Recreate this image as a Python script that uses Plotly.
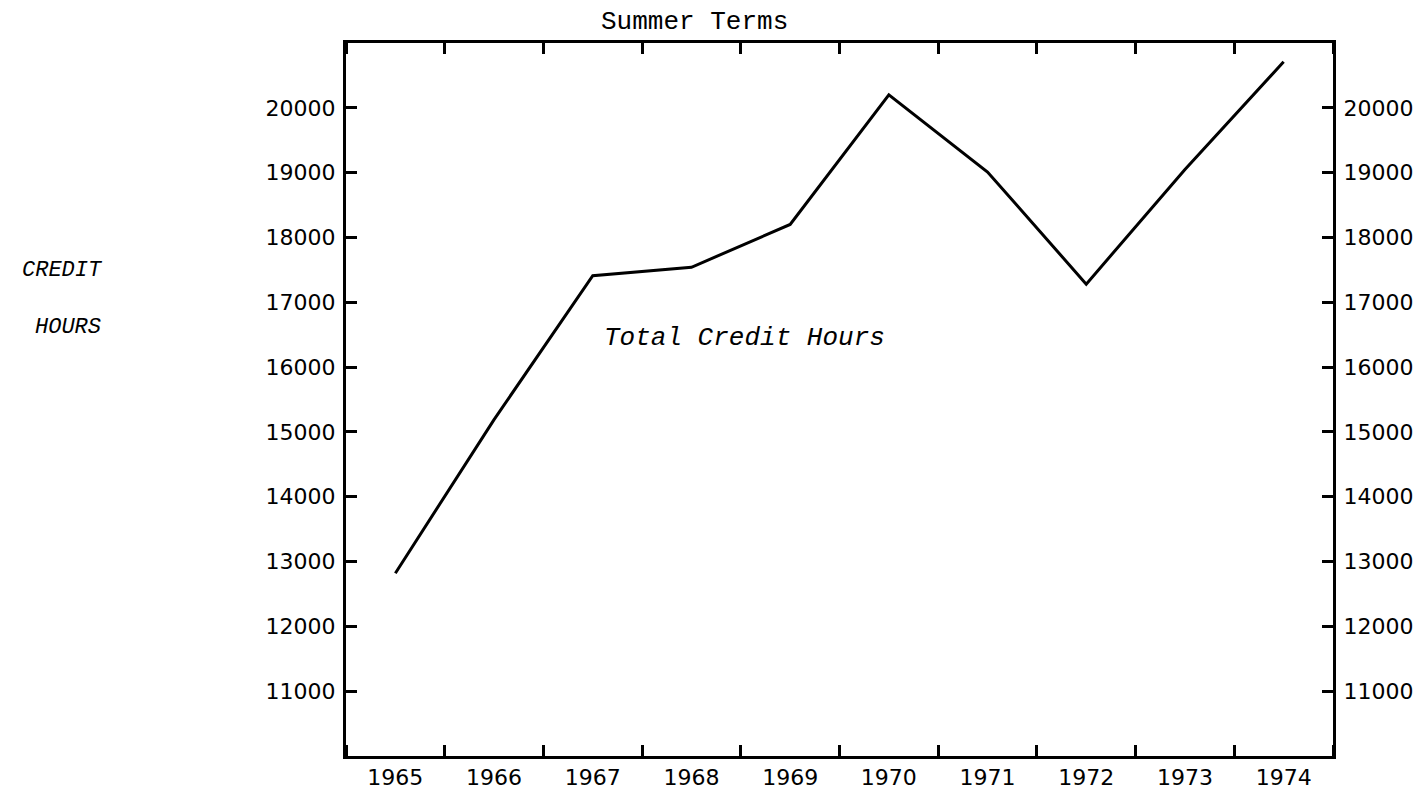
import plotly.graph_objects as go

# Summer-term enrolment, total credit hours per year
years = [1965, 1966, 1967, 1968, 1969, 1970, 1971, 1972, 1973, 1974]
credit_hours = [12820, 15190, 17410, 17540, 18200, 20200, 19010, 17280, 19050, 20710]

y_ticks = [11000, 12000, 13000, 14000, 15000, 16000, 17000, 18000, 19000, 20000]
year_labels = [str(y) for y in years]

typewriter = "Liberation Mono"
numeric_font = dict(family="DejaVu Sans", size=22, color="black")

fig = go.Figure()

fig.add_trace(go.Scatter(
    x=years, y=credit_hours, mode="lines",
    line=dict(color="black", width=3),
    hoverinfo="skip", showlegend=False,
))
# invisible copy so the right-hand value axis is laid out
fig.add_trace(go.Scatter(
    x=years, y=credit_hours, mode="lines", yaxis="y2",
    line=dict(color="rgba(0,0,0,0)", width=0),
    hoverinfo="skip", showlegend=False,
))

axis_line = dict(showline=True, linecolor="black", linewidth=3,
                 showgrid=False, zeroline=False, automargin=False)

fig.update_layout(
    width=1422, height=791,
    margin=dict(l=346, r=89, t=43, b=35),
    paper_bgcolor="white", plot_bgcolor="white",
    xaxis=dict(
        range=[1964.5, 1974.5],
        tickmode="array", tickvals=years, ticktext=year_labels,
        ticks="", tickfont=dict(family="DejaVu Sans", size=22, color="black"),
        ticklabelstandoff=0,
        mirror="ticks",
        minor=dict(ticks="inside", tick0=1964.5, dtick=1, ticklen=11,
                   tickwidth=2.5, tickcolor="black", showgrid=False),
        **axis_line,
    ),
    yaxis=dict(
        range=[10000, 21000],
        tickmode="array", tickvals=y_ticks, ticktext=[str(v) for v in y_ticks],
        ticks="inside", ticklen=11, tickwidth=2.5, tickcolor="black",
        tickfont=numeric_font, ticklabelstandoff=3,
        **axis_line,
    ),
    yaxis2=dict(
        range=[10000, 21000], overlaying="y", side="right",
        tickmode="array", tickvals=y_ticks, ticktext=[str(v) for v in y_ticks],
        ticks="inside", ticklen=11, tickwidth=2.5, tickcolor="black",
        tickfont=numeric_font, ticklabelstandoff=3,
        **axis_line,
    ),
    annotations=[
        dict(text="Summer Terms", xref="paper", yref="paper",
             x=0.3526, y=1.0295, xanchor="center", yanchor="middle",
             showarrow=False,
             font=dict(family=typewriter, size=26, color="black")),
        dict(text="<i>Total Credit Hours</i>", xref="paper", yref="paper",
             x=0.4037, y=0.5863, xanchor="center", yanchor="middle",
             showarrow=False,
             font=dict(family=typewriter, size=26, color="black")),
        dict(text="<i>CREDIT</i>", xref="paper", yref="paper",
             x=-0.2442, y=0.6816, xanchor="right", yanchor="middle",
             showarrow=False,
             font=dict(family=typewriter, size=22, color="black")),
        dict(text="<i>HOURS</i>", xref="paper", yref="paper",
             x=-0.2462, y=0.6003, xanchor="right", yanchor="middle",
             showarrow=False,
             font=dict(family=typewriter, size=22, color="black")),
    ],
)

fig.write_html("out.html")
